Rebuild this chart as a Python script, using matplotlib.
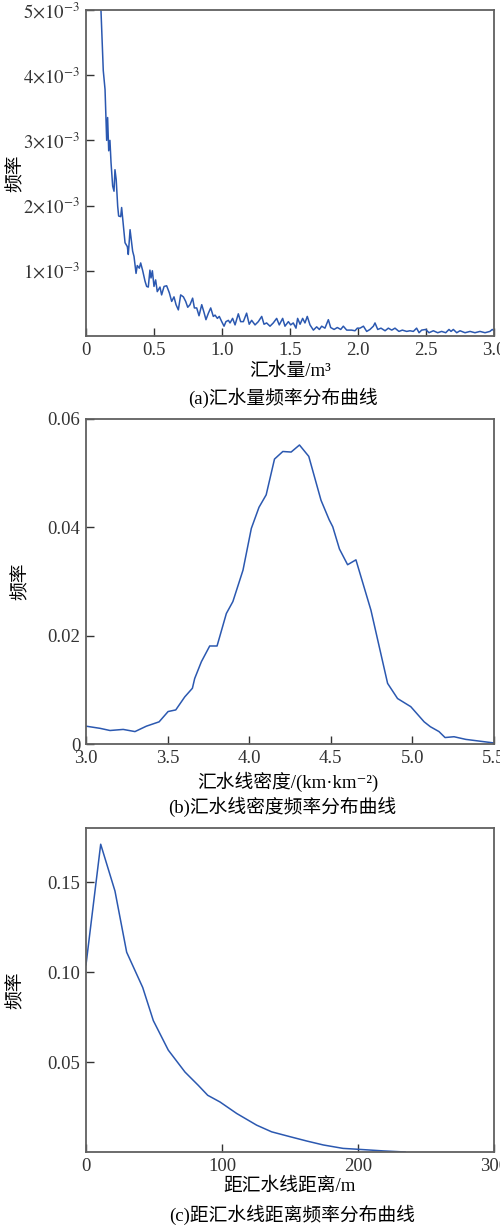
import numpy as np
import matplotlib
matplotlib.use('Agg')
import matplotlib.pyplot as plt

plt.rcParams['font.family'] = ['Liberation Serif', 'Noto Sans CJK SC', 'DejaVu Sans']
plt.rcParams['mathtext.fontset'] = 'stix'
plt.rcParams['axes.unicode_minus'] = True

# (a) 汇水量频率分布  (y in units of 1e-3)
xa = [0.100, 0.110, 0.127, 0.140, 0.147, 0.152, 0.159, 0.167, 0.176, 0.184,
      0.196, 0.206, 0.213, 0.222, 0.233, 0.240, 0.255, 0.262, 0.287, 0.304,
      0.311, 0.324, 0.343, 0.353, 0.368, 0.377, 0.392, 0.402, 0.417, 0.434,
      0.446, 0.458, 0.470, 0.478, 0.488, 0.500, 0.512, 0.524, 0.544, 0.556,
      0.574, 0.593, 0.613, 0.630, 0.647, 0.662, 0.679, 0.696, 0.716, 0.733,
      0.748, 0.765, 0.784, 0.797, 0.814, 0.831, 0.851, 0.868, 0.882, 0.900,
      0.917, 0.936, 0.949, 0.966, 0.980, 0.998, 1.015, 1.029, 1.047, 1.059,
      1.078, 1.096, 1.120, 1.137, 1.157, 1.181, 1.200, 1.218, 1.243, 1.267,
      1.292, 1.309, 1.328, 1.353, 1.377, 1.402, 1.421, 1.446, 1.463, 1.488,
      1.505, 1.524, 1.544, 1.556, 1.574, 1.593, 1.610, 1.627, 1.647, 1.672,
      1.696, 1.716, 1.733, 1.757, 1.782, 1.799, 1.824, 1.848, 1.873, 1.892,
      1.917, 1.953, 1.978, 1.995, 2.015, 2.040, 2.064, 2.088, 2.113, 2.125,
      2.145, 2.169, 2.199, 2.223, 2.248, 2.272, 2.301, 2.326, 2.358, 2.382,
      2.407, 2.431, 2.449, 2.468, 2.498, 2.522, 2.554, 2.586, 2.615, 2.645,
      2.669, 2.684, 2.701, 2.726, 2.750, 2.787, 2.824, 2.860, 2.897, 2.934,
      2.970, 2.987, 3.002]
ya = [5.60, 5.00, 4.07, 3.78, 3.32, 3.00, 3.35, 2.84, 3.00, 2.66,
      2.30, 2.22, 2.55, 2.40, 1.99, 1.84, 1.83, 1.97, 1.43, 1.37,
      1.25, 1.63, 1.30, 1.22, 0.96, 1.08, 1.04, 1.12, 1.00, 0.84,
      0.76, 0.75, 1.01, 0.89, 1.00, 0.76, 0.86, 0.68, 0.75, 0.63,
      0.76, 0.77, 0.66, 0.53, 0.60, 0.48, 0.40, 0.63, 0.60, 0.53,
      0.44, 0.48, 0.58, 0.43, 0.43, 0.31, 0.48, 0.36, 0.25, 0.35,
      0.43, 0.30, 0.32, 0.27, 0.30, 0.22, 0.15, 0.22, 0.24, 0.20,
      0.27, 0.17, 0.34, 0.22, 0.22, 0.35, 0.18, 0.24, 0.17, 0.22,
      0.30, 0.18, 0.20, 0.15, 0.20, 0.27, 0.17, 0.27, 0.15, 0.22,
      0.17, 0.20, 0.12, 0.27, 0.18, 0.27, 0.20, 0.30, 0.17, 0.09,
      0.14, 0.10, 0.15, 0.12, 0.25, 0.13, 0.10, 0.13, 0.10, 0.15,
      0.09, 0.09, 0.08, 0.12, 0.12, 0.15, 0.07, 0.10, 0.15, 0.20,
      0.10, 0.12, 0.08, 0.12, 0.09, 0.12, 0.07, 0.09, 0.07, 0.08,
      0.07, 0.12, 0.05, 0.09, 0.10, 0.05, 0.08, 0.05, 0.07, 0.05,
      0.10, 0.07, 0.10, 0.05, 0.08, 0.05, 0.07, 0.05, 0.07, 0.05,
      0.07, 0.10, 0.08]
yticks_a = [1e-3, 2e-3, 3e-3, 4e-3, 5e-3]
ylabels_a = [r'$1{\times}10^{-3}$', r'$2{\times}10^{-3}$', r'$3{\times}10^{-3}$',
             r'$4{\times}10^{-3}$', r'$5{\times}10^{-3}$']
xticks_a = [0, 0.5, 1.0, 1.5, 2.0, 2.5, 3.0]
xlabels_a = ['0', '0.5', '1.0', '1.5', '2.0', '2.5', '3.0']

# (b) 汇水线密度频率分布
xb = [3.000, 3.086, 3.147, 3.228, 3.300, 3.370, 3.448, 3.503, 3.550, 3.605,
      3.652, 3.666, 3.707, 3.758, 3.803, 3.860, 3.900, 3.962, 4.013, 4.060,
      4.104, 4.155, 4.206, 4.257, 4.308, 4.365, 4.440, 4.490, 4.512, 4.553,
      4.603, 4.654, 4.746, 4.848, 4.909, 4.990, 5.072, 5.110, 5.163, 5.200,
      5.255, 5.327, 5.500]
yb = [0.0033, 0.0029, 0.0025, 0.0027, 0.0023, 0.0033, 0.0041, 0.0060, 0.0063, 0.0087,
      0.0103, 0.0121, 0.0152, 0.0181, 0.0181, 0.0241, 0.0263, 0.0321, 0.0398, 0.0437,
      0.0460, 0.0526, 0.0540, 0.0539, 0.0552, 0.0531, 0.0450, 0.0414, 0.0401, 0.0360,
      0.0331, 0.0340, 0.0247, 0.0112, 0.0084, 0.0069, 0.0041, 0.0032, 0.0023, 0.0012,
      0.00135, 0.00086, 0.0002]
yticks_b = [0, 0.02, 0.04, 0.06]
ylabels_b = ['0', '0.02', '0.04', '0.06']
xticks_b = [3.0, 3.5, 4.0, 4.5, 5.0, 5.5]
xlabels_b = ['3.0', '3.5', '4.0', '4.5', '5.0', '5.5']

# (c) 距汇水线距离频率分布
xc = [0, 10.8, 21.3, 29.9, 41.7, 49.5, 60.5, 72.8, 82.6, 89.5,
      98.5, 110.8, 125.5, 136.5, 150, 162.3, 174.5, 189, 200, 218.6, 234.6]
yc = [0.104, 0.171, 0.145, 0.111, 0.0914, 0.073, 0.0566, 0.0444, 0.037, 0.0315,
      0.0278, 0.0214, 0.0149, 0.0112, 0.0085, 0.0061, 0.0039, 0.0020, 0.0015, 0.0006, 0.0]
yticks_c = [0.05, 0.10, 0.15]
ylabels_c = ['0.05', '0.10', '0.15']
xticks_c = [0, 100, 200, 300]
xlabels_c = ['0', '100', '200', '300']

line_color = '#2b58b0'
spine_color = '#606060'
fs = 13.5

fig = plt.figure(figsize=(5, 12.28), dpi=100)

def style(ax):
    for s in ax.spines.values():
        s.set_color(spine_color)
        s.set_linewidth(1.3)
    ax.tick_params(direction='in', length=6, width=1.0, colors='#333333',
                   labelsize=13.5, pad=4, top=False, right=False)

ax1 = fig.add_axes([0.172, 0.7264, 0.816, 0.2655])
ax1.plot(xa, np.array(ya) * 1e-3, color=line_color, lw=1.1)
ax1.set_xlim(0, 3.0)
ax1.set_ylim(0, 5e-3)
ax1.set_yticks(yticks_a, ylabels_a)
ax1.set_xticks(xticks_a, xlabels_a)
style(ax1)
ax1.set_ylabel('频率', fontsize=fs)
ax1.yaxis.set_label_coords(-0.15, 0.5)

ax2 = fig.add_axes([0.172, 0.3941, 0.816, 0.2647])
ax2.plot(xb, yb, color=line_color, lw=1.1)
ax2.set_xlim(3.0, 5.5)
ax2.set_ylim(0, 0.06)
ax2.set_yticks(yticks_b, ylabels_b)
ax2.set_xticks(xticks_b, xlabels_b)
style(ax2)
ax2.set_ylabel('频率', fontsize=fs)
ax2.yaxis.set_label_coords(-0.137, 0.5)

ax3 = fig.add_axes([0.172, 0.0619, 0.816, 0.2638])
ax3.plot(xc, yc, color=line_color, lw=1.1)
ax3.set_xlim(0, 300)
ax3.set_ylim(0, 0.18)
ax3.set_yticks(yticks_c, ylabels_c)
ax3.set_xticks(xticks_c, xlabels_c)
style(ax3)
ax3.set_ylabel('频率', fontsize=fs)
ax3.yaxis.set_label_coords(-0.15, 0.5)

cx = 0.58
fig.text(cx, 0.6973, '汇水量/m³', ha='center', va='center', fontsize=fs)
fig.text(cx - 0.015, 0.6759, '(a)汇水量频率分布曲线', ha='center', va='center', fontsize=fs)
fig.text(cx - 0.005, 0.3635, '汇水线密度/(km·km⁻²)', ha='center', va='center', fontsize=fs)
fig.text(cx - 0.015, 0.3431, '(b)汇水线密度频率分布曲线', ha='center', va='center', fontsize=fs)
fig.text(cx, 0.0342, '距汇水线距离/m', ha='center', va='center', fontsize=fs)
fig.text(cx + 0.005, 0.0106, '(c)距汇水线距离频率分布曲线', ha='center', va='center', fontsize=fs)

fig.savefig('out.png', dpi=100)
